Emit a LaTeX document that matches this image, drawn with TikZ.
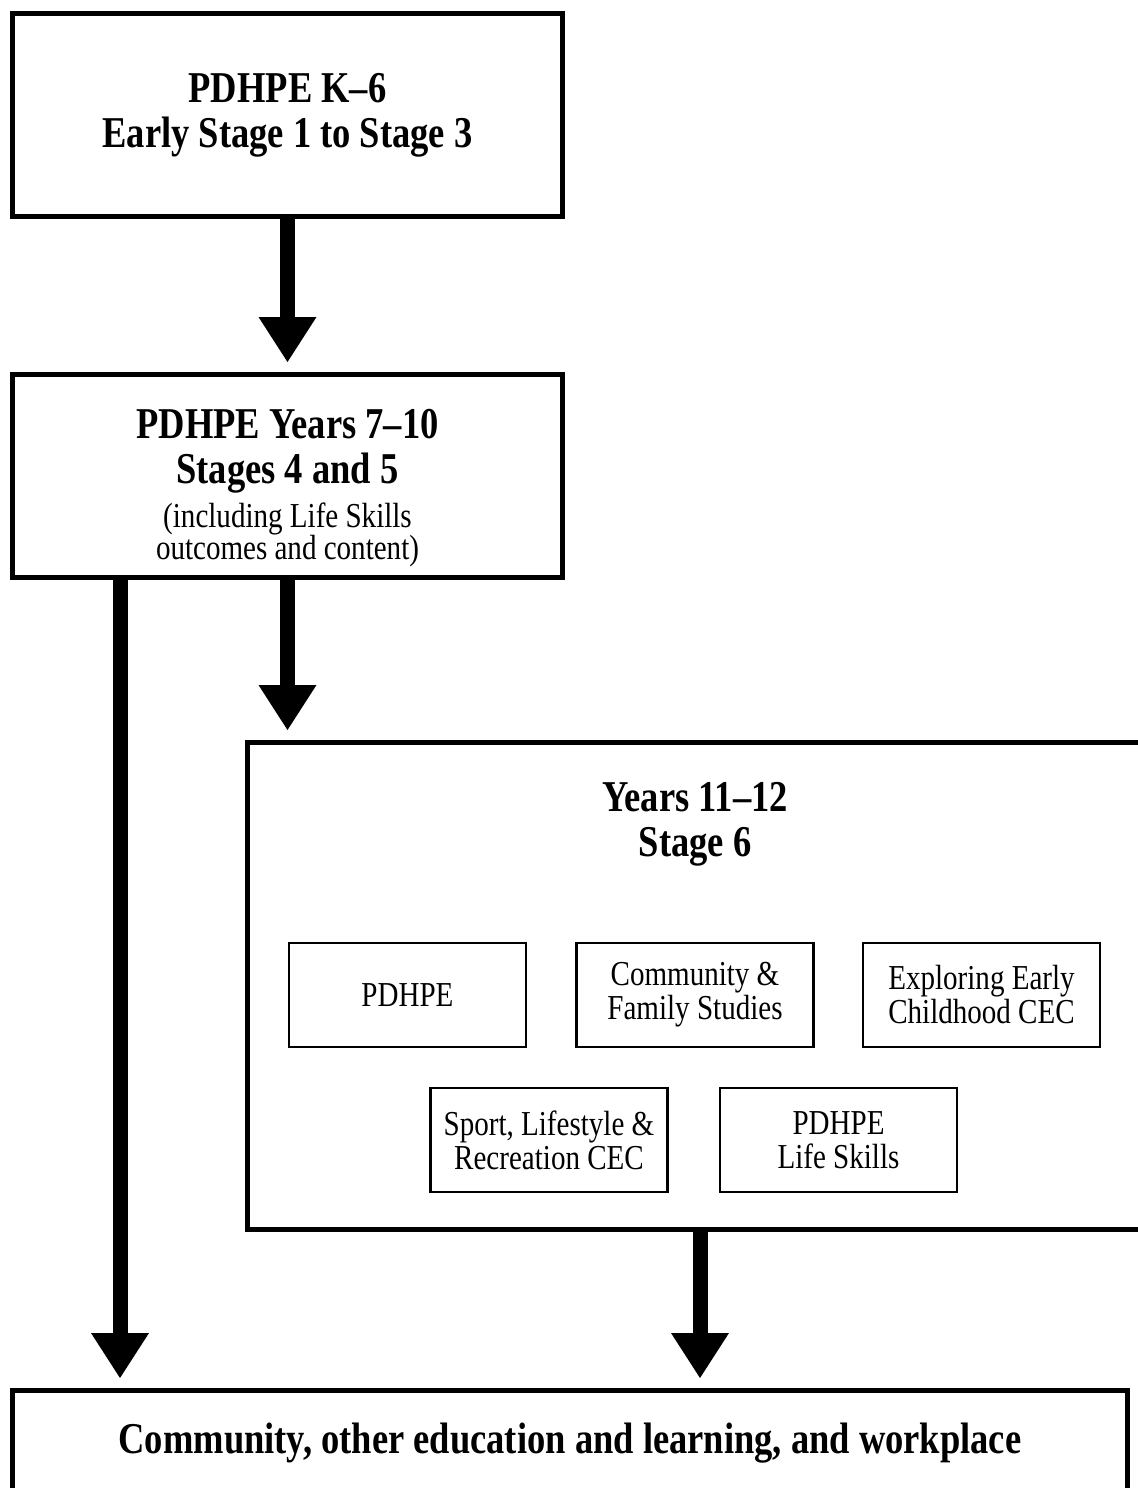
\documentclass[tikz,border=0pt]{standalone}
\usepackage{fontspec}
\setmainfont[FakeStretch=0.83]{Liberation Serif}
\usetikzlibrary{calc, arrows.meta, positioning}

\newcommand{\headfont}{\fontsize{22}{22.5}\selectfont\bfseries}
\newcommand{\bodyfont}{\fontsize{17.5}{17}\selectfont\mdseries}

\tikzset{
  stagebox/.style={draw, line width=2.5pt, minimum width=275pt, minimum height=101.5pt,
    align=center, inner sep=0pt, font=\headfont},
  coursebox/.style={draw, line width=1.25pt, minimum width=118.5pt, minimum height=52pt,
    align=center, inner sep=0pt, font=\bodyfont},
  bigarrow/.style={line width=7.5pt, shorten >=5pt,
    -{Triangle[width=29pt, length=22.5pt, line width=0pt]}}
}

\begin{document}
\begin{tikzpicture}[x=0.5pt, y=-0.5pt]
  \useasboundingbox (0,0) rectangle (1138,1488);

  % Stages
  \node[stagebox] (k6) at (287.5,115) {PDHPE K–6\\ Early Stage 1 to Stage 3};
  \node[stagebox] (y710) at (287.5,476) {};
  \node[font=\headfont, align=center] (y710txt) at (287.5,488)
    {PDHPE Years 7–10\\ Stages 4 and 5\\[-0.5pt] \bodyfont (including Life Skills\\[-6.5pt] \bodyfont outcomes and content)};
  \node[stagebox, minimum width=452.5pt, minimum height=243.5pt] (y1112) at (700,986) {};
  \node[font=\headfont, align=center] (stage6) at (695,824) {Years 11–12\\ Stage 6};

  % Stage 6 courses
  \node[coursebox] (pdhpe) at (407.5,995) {PDHPE};
  \node[coursebox, right=24pt of pdhpe] (cafs) {Community \&\\ Family Studies};
  \node[coursebox, right=23.5pt of cafs] (eecc) {Exploring Early\\ Childhood CEC};
  \node[coursebox] (slr) at (549,1140) {Sport, Lifestyle \&\\ Recreation CEC};
  \node[coursebox, right=25pt of slr] (lifeskills) {PDHPE\\ Life Skills};

  % Beyond school
  \node[stagebox, minimum width=557.5pt, minimum height=52.5pt] (comm) at (570,1443)
    {Community, other education and learning, and workplace};

  % Arrows
  \coordinate (lefttop) at ($(y710.south west)+(110,0)$);
  \draw[bigarrow] (k6) -- (y710);
  \draw[bigarrow] (y710.south) -- (y710.south |- y1112.north);
  \draw[bigarrow] (lefttop) -- (lefttop |- comm.north);
  \draw[bigarrow] (y1112.south) -- (y1112.south |- comm.north);
\end{tikzpicture}
\end{document}
